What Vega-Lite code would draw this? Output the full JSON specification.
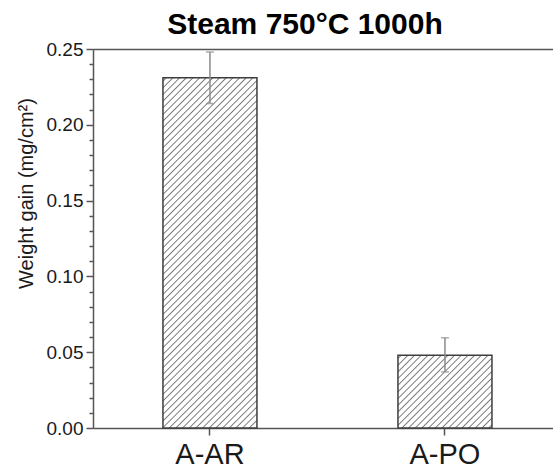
{
  "$schema": "https://vega.github.io/schema/vega-lite/v6.json",
  "autosize": "none",
  "width": 460,
  "height": 379,
  "padding": {"left": 93, "top": 49, "right": 0, "bottom": 44},
  "background": "white",
  "config": {"view": {"stroke": null}, "font": "Liberation Sans"},
  "title": {"text": "Steam 750°C 1000h", "font": "Liberation Sans", "fontSize": 30, "fontWeight": "bold", "color": "#000000", "anchor": "middle", "offset": 0, "dx": -18},
  "data": {"values": [
    {"sample": "A-AR", "gain": 0.231, "lo": 0.214, "hi": 0.248},
    {"sample": "A-PO", "gain": 0.048, "lo": 0.037, "hi": 0.0595}
  ]},
  "layer": [
    {
      "transform": [{"filter": "datum.sample == 'A-AR'"}],
      "mark": {"type": "bar", "stroke": "#3d3d3d", "strokeWidth": 1.5,
        "fill": {"gradient": "linear", "x1": 0, "y1": 0, "x2": 0.3176, "y2": 1.1832, "stops": [
{"offset":0.0045,"color":"#fff"},{"offset":0.0075,"color":"#777"},{"offset":0.0105,"color":"#fff"},
{"offset":0.0195,"color":"#fff"},{"offset":0.0225,"color":"#777"},{"offset":0.0255,"color":"#fff"},
{"offset":0.0345,"color":"#fff"},{"offset":0.0375,"color":"#777"},{"offset":0.0405,"color":"#fff"},
{"offset":0.0495,"color":"#fff"},{"offset":0.0525,"color":"#777"},{"offset":0.0555,"color":"#fff"},
{"offset":0.0645,"color":"#fff"},{"offset":0.0675,"color":"#777"},{"offset":0.0705,"color":"#fff"},
{"offset":0.0795,"color":"#fff"},{"offset":0.0825,"color":"#777"},{"offset":0.0855,"color":"#fff"},
{"offset":0.0945,"color":"#fff"},{"offset":0.0975,"color":"#777"},{"offset":0.1005,"color":"#fff"},
{"offset":0.1095,"color":"#fff"},{"offset":0.1125,"color":"#777"},{"offset":0.1155,"color":"#fff"},
{"offset":0.1245,"color":"#fff"},{"offset":0.1275,"color":"#777"},{"offset":0.1305,"color":"#fff"},
{"offset":0.1395,"color":"#fff"},{"offset":0.1425,"color":"#777"},{"offset":0.1455,"color":"#fff"},
{"offset":0.1545,"color":"#fff"},{"offset":0.1575,"color":"#777"},{"offset":0.1605,"color":"#fff"},
{"offset":0.1695,"color":"#fff"},{"offset":0.1725,"color":"#777"},{"offset":0.1755,"color":"#fff"},
{"offset":0.1845,"color":"#fff"},{"offset":0.1875,"color":"#777"},{"offset":0.1905,"color":"#fff"},
{"offset":0.1995,"color":"#fff"},{"offset":0.2025,"color":"#777"},{"offset":0.2055,"color":"#fff"},
{"offset":0.2145,"color":"#fff"},{"offset":0.2175,"color":"#777"},{"offset":0.2205,"color":"#fff"},
{"offset":0.2295,"color":"#fff"},{"offset":0.2325,"color":"#777"},{"offset":0.2355,"color":"#fff"},
{"offset":0.2445,"color":"#fff"},{"offset":0.2475,"color":"#777"},{"offset":0.2505,"color":"#fff"},
{"offset":0.2595,"color":"#fff"},{"offset":0.2625,"color":"#777"},{"offset":0.2655,"color":"#fff"},
{"offset":0.2745,"color":"#fff"},{"offset":0.2775,"color":"#777"},{"offset":0.2805,"color":"#fff"},
{"offset":0.2895,"color":"#fff"},{"offset":0.2925,"color":"#777"},{"offset":0.2955,"color":"#fff"},
{"offset":0.3045,"color":"#fff"},{"offset":0.3075,"color":"#777"},{"offset":0.3105,"color":"#fff"},
{"offset":0.3195,"color":"#fff"},{"offset":0.3225,"color":"#777"},{"offset":0.3255,"color":"#fff"},
{"offset":0.3345,"color":"#fff"},{"offset":0.3375,"color":"#777"},{"offset":0.3405,"color":"#fff"},
{"offset":0.3495,"color":"#fff"},{"offset":0.3525,"color":"#777"},{"offset":0.3555,"color":"#fff"},
{"offset":0.3645,"color":"#fff"},{"offset":0.3675,"color":"#777"},{"offset":0.3705,"color":"#fff"},
{"offset":0.3795,"color":"#fff"},{"offset":0.3825,"color":"#777"},{"offset":0.3855,"color":"#fff"},
{"offset":0.3945,"color":"#fff"},{"offset":0.3975,"color":"#777"},{"offset":0.4005,"color":"#fff"},
{"offset":0.4095,"color":"#fff"},{"offset":0.4125,"color":"#777"},{"offset":0.4155,"color":"#fff"},
{"offset":0.4245,"color":"#fff"},{"offset":0.4275,"color":"#777"},{"offset":0.4305,"color":"#fff"},
{"offset":0.4395,"color":"#fff"},{"offset":0.4425,"color":"#777"},{"offset":0.4455,"color":"#fff"},
{"offset":0.4545,"color":"#fff"},{"offset":0.4575,"color":"#777"},{"offset":0.4605,"color":"#fff"},
{"offset":0.4695,"color":"#fff"},{"offset":0.4725,"color":"#777"},{"offset":0.4755,"color":"#fff"},
{"offset":0.4845,"color":"#fff"},{"offset":0.4875,"color":"#777"},{"offset":0.4905,"color":"#fff"},
{"offset":0.4995,"color":"#fff"},{"offset":0.5025,"color":"#777"},{"offset":0.5055,"color":"#fff"},
{"offset":0.5145,"color":"#fff"},{"offset":0.5175,"color":"#777"},{"offset":0.5205,"color":"#fff"},
{"offset":0.5295,"color":"#fff"},{"offset":0.5325,"color":"#777"},{"offset":0.5355,"color":"#fff"},
{"offset":0.5445,"color":"#fff"},{"offset":0.5475,"color":"#777"},{"offset":0.5505,"color":"#fff"},
{"offset":0.5595,"color":"#fff"},{"offset":0.5625,"color":"#777"},{"offset":0.5655,"color":"#fff"},
{"offset":0.5745,"color":"#fff"},{"offset":0.5775,"color":"#777"},{"offset":0.5805,"color":"#fff"},
{"offset":0.5895,"color":"#fff"},{"offset":0.5925,"color":"#777"},{"offset":0.5955,"color":"#fff"},
{"offset":0.6045,"color":"#fff"},{"offset":0.6075,"color":"#777"},{"offset":0.6105,"color":"#fff"},
{"offset":0.6195,"color":"#fff"},{"offset":0.6225,"color":"#777"},{"offset":0.6255,"color":"#fff"},
{"offset":0.6345,"color":"#fff"},{"offset":0.6375,"color":"#777"},{"offset":0.6405,"color":"#fff"},
{"offset":0.6495,"color":"#fff"},{"offset":0.6525,"color":"#777"},{"offset":0.6555,"color":"#fff"},
{"offset":0.6645,"color":"#fff"},{"offset":0.6675,"color":"#777"},{"offset":0.6705,"color":"#fff"},
{"offset":0.6795,"color":"#fff"},{"offset":0.6825,"color":"#777"},{"offset":0.6855,"color":"#fff"},
{"offset":0.6945,"color":"#fff"},{"offset":0.6975,"color":"#777"},{"offset":0.7005,"color":"#fff"},
{"offset":0.7095,"color":"#fff"},{"offset":0.7125,"color":"#777"},{"offset":0.7155,"color":"#fff"},
{"offset":0.7245,"color":"#fff"},{"offset":0.7275,"color":"#777"},{"offset":0.7305,"color":"#fff"},
{"offset":0.7395,"color":"#fff"},{"offset":0.7425,"color":"#777"},{"offset":0.7455,"color":"#fff"},
{"offset":0.7545,"color":"#fff"},{"offset":0.7575,"color":"#777"},{"offset":0.7605,"color":"#fff"},
{"offset":0.7695,"color":"#fff"},{"offset":0.7725,"color":"#777"},{"offset":0.7755,"color":"#fff"},
{"offset":0.7845,"color":"#fff"},{"offset":0.7875,"color":"#777"},{"offset":0.7905,"color":"#fff"},
{"offset":0.7995,"color":"#fff"},{"offset":0.8025,"color":"#777"},{"offset":0.8055,"color":"#fff"},
{"offset":0.8145,"color":"#fff"},{"offset":0.8175,"color":"#777"},{"offset":0.8205,"color":"#fff"},
{"offset":0.8295,"color":"#fff"},{"offset":0.8325,"color":"#777"},{"offset":0.8355,"color":"#fff"},
{"offset":0.8445,"color":"#fff"},{"offset":0.8475,"color":"#777"},{"offset":0.8505,"color":"#fff"},
{"offset":0.8595,"color":"#fff"},{"offset":0.8625,"color":"#777"},{"offset":0.8655,"color":"#fff"},
{"offset":0.8745,"color":"#fff"},{"offset":0.8775,"color":"#777"},{"offset":0.8805,"color":"#fff"},
{"offset":0.8895,"color":"#fff"},{"offset":0.8925,"color":"#777"},{"offset":0.8955,"color":"#fff"},
{"offset":0.9045,"color":"#fff"},{"offset":0.9075,"color":"#777"},{"offset":0.9105,"color":"#fff"},
{"offset":0.9195,"color":"#fff"},{"offset":0.9225,"color":"#777"},{"offset":0.9255,"color":"#fff"},
{"offset":0.9345,"color":"#fff"},{"offset":0.9375,"color":"#777"},{"offset":0.9405,"color":"#fff"},
{"offset":0.9495,"color":"#fff"},{"offset":0.9525,"color":"#777"},{"offset":0.9555,"color":"#fff"},
{"offset":0.9645,"color":"#fff"},{"offset":0.9675,"color":"#777"},{"offset":0.9705,"color":"#fff"},
{"offset":0.9795,"color":"#fff"},{"offset":0.9825,"color":"#777"},{"offset":0.9855,"color":"#fff"},
{"offset":0.9945,"color":"#fff"},{"offset":0.9975,"color":"#777"},{"offset":1,"color":"#fff"}
        ]}},
      "encoding": {
        "x": {"field": "sample", "type": "nominal", "scale": {"paddingInner": 0.6, "paddingOuter": 0.2787, "align": 0.534},
          "axis": {"orient": "bottom", "title": null, "labelAngle": 0, "labelFont": "Liberation Sans", "labelFontSize": 29, "labelColor": "#1a1a1a", "labelPadding": 5, "tickSize": 7, "tickWidth": 1.5, "tickColor": "#555", "domainColor": "#555", "domainWidth": 1.5, "grid": false}},
        "y": {"field": "gain", "type": "quantitative", "scale": {"domain": [0, 0.25], "nice": false},
          "axis": {"orient": "left", "values": [0, 0.05, 0.1, 0.15, 0.2, 0.25], "format": ".2f", "tickSize": 7, "tickWidth": 1.5, "tickColor": "#555", "domainColor": "#555", "domainWidth": 1.5, "labelFont": "Liberation Sans", "labelFontSize": 19, "labelColor": "#1a1a1a", "labelPadding": 3, "grid": false,
            "title": "Weight gain (mg/cm²)", "titleFont": "Liberation Sans", "titleFontSize": 20, "titleFontWeight": "normal", "titleColor": "#1a1a1a", "titleX": -61, "titleY": 144, "titleBaseline": "alphabetic", "titleAngle": -90, "titleAlign": "center"}}
      }
    },
    {
      "transform": [{"filter": "datum.sample == 'A-PO'"}],
      "mark": {"type": "bar", "stroke": "#3d3d3d", "strokeWidth": 1.5,
        "fill": {"gradient": "linear", "x1": 0, "y1": 0, "x2": 1.1092, "y2": 0.859, "stops": [
{"offset":0.012,"color":"#fff"},{"offset":0.02,"color":"#777"},{"offset":0.028,"color":"#fff"},
{"offset":0.052,"color":"#fff"},{"offset":0.06,"color":"#777"},{"offset":0.068,"color":"#fff"},
{"offset":0.092,"color":"#fff"},{"offset":0.1,"color":"#777"},{"offset":0.108,"color":"#fff"},
{"offset":0.132,"color":"#fff"},{"offset":0.14,"color":"#777"},{"offset":0.148,"color":"#fff"},
{"offset":0.172,"color":"#fff"},{"offset":0.18,"color":"#777"},{"offset":0.188,"color":"#fff"},
{"offset":0.212,"color":"#fff"},{"offset":0.22,"color":"#777"},{"offset":0.228,"color":"#fff"},
{"offset":0.252,"color":"#fff"},{"offset":0.26,"color":"#777"},{"offset":0.268,"color":"#fff"},
{"offset":0.292,"color":"#fff"},{"offset":0.3,"color":"#777"},{"offset":0.308,"color":"#fff"},
{"offset":0.332,"color":"#fff"},{"offset":0.34,"color":"#777"},{"offset":0.348,"color":"#fff"},
{"offset":0.372,"color":"#fff"},{"offset":0.38,"color":"#777"},{"offset":0.388,"color":"#fff"},
{"offset":0.412,"color":"#fff"},{"offset":0.42,"color":"#777"},{"offset":0.428,"color":"#fff"},
{"offset":0.452,"color":"#fff"},{"offset":0.46,"color":"#777"},{"offset":0.468,"color":"#fff"},
{"offset":0.492,"color":"#fff"},{"offset":0.5,"color":"#777"},{"offset":0.508,"color":"#fff"},
{"offset":0.532,"color":"#fff"},{"offset":0.54,"color":"#777"},{"offset":0.548,"color":"#fff"},
{"offset":0.572,"color":"#fff"},{"offset":0.58,"color":"#777"},{"offset":0.588,"color":"#fff"},
{"offset":0.612,"color":"#fff"},{"offset":0.62,"color":"#777"},{"offset":0.628,"color":"#fff"},
{"offset":0.652,"color":"#fff"},{"offset":0.66,"color":"#777"},{"offset":0.668,"color":"#fff"},
{"offset":0.692,"color":"#fff"},{"offset":0.7,"color":"#777"},{"offset":0.708,"color":"#fff"},
{"offset":0.732,"color":"#fff"},{"offset":0.74,"color":"#777"},{"offset":0.748,"color":"#fff"},
{"offset":0.772,"color":"#fff"},{"offset":0.78,"color":"#777"},{"offset":0.788,"color":"#fff"},
{"offset":0.812,"color":"#fff"},{"offset":0.82,"color":"#777"},{"offset":0.828,"color":"#fff"},
{"offset":0.852,"color":"#fff"},{"offset":0.86,"color":"#777"},{"offset":0.868,"color":"#fff"},
{"offset":0.892,"color":"#fff"},{"offset":0.9,"color":"#777"},{"offset":0.908,"color":"#fff"},
{"offset":0.932,"color":"#fff"},{"offset":0.94,"color":"#777"},{"offset":0.948,"color":"#fff"},
{"offset":0.972,"color":"#fff"},{"offset":0.98,"color":"#777"},{"offset":0.988,"color":"#fff"}
        ]}},
      "encoding": {
        "x": {"field": "sample", "type": "nominal", "scale": {"paddingInner": 0.6, "paddingOuter": 0.2787, "align": 0.534}, "axis": null},
        "y": {"field": "gain", "type": "quantitative", "scale": {"domain": [0, 0.25], "nice": false}, "axis": null}
      }
    },
    {
      "mark": {"type": "rule", "color": "#8a8a8a", "strokeWidth": 1.5},
      "encoding": {
        "x": {"field": "sample", "type": "nominal", "scale": {"paddingInner": 0.6, "paddingOuter": 0.2787, "align": 0.534},
          "axis": {"orient": "top", "title": null, "labels": false, "ticks": false, "domainColor": "#555", "domainWidth": 1.5, "grid": false}},
        "y": {"field": "lo", "type": "quantitative", "scale": {"domain": [0, 0.25], "nice": false},
          "axis": {"orient": "left", "values": [0.01, 0.02, 0.03, 0.04, 0.06, 0.07, 0.08, 0.09, 0.11, 0.12, 0.13, 0.14, 0.16, 0.17, 0.18, 0.19, 0.21, 0.22, 0.23, 0.24], "tickSize": 4, "tickWidth": 1.5, "tickColor": "#555", "labels": false, "domain": false, "grid": false, "title": null}},
        "y2": {"field": "hi"}
      }
    },
    {
      "mark": {"type": "tick", "color": "#8a8a8a", "size": 8, "thickness": 1.5},
      "encoding": {
        "x": {"field": "sample", "type": "nominal", "scale": {"paddingInner": 0.6, "paddingOuter": 0.2787, "align": 0.534}, "axis": null},
        "y": {"field": "hi", "type": "quantitative", "scale": {"domain": [0, 0.25], "nice": false}, "axis": null}
      }
    },
    {
      "mark": {"type": "tick", "color": "#8a8a8a", "size": 8, "thickness": 1.5},
      "encoding": {
        "x": {"field": "sample", "type": "nominal", "scale": {"paddingInner": 0.6, "paddingOuter": 0.2787, "align": 0.534}, "axis": null},
        "y": {"field": "lo", "type": "quantitative", "scale": {"domain": [0, 0.25], "nice": false}, "axis": null}
      }
    }
  ],
  "resolve": {"axis": {"x": "independent", "y": "independent"}}
}
